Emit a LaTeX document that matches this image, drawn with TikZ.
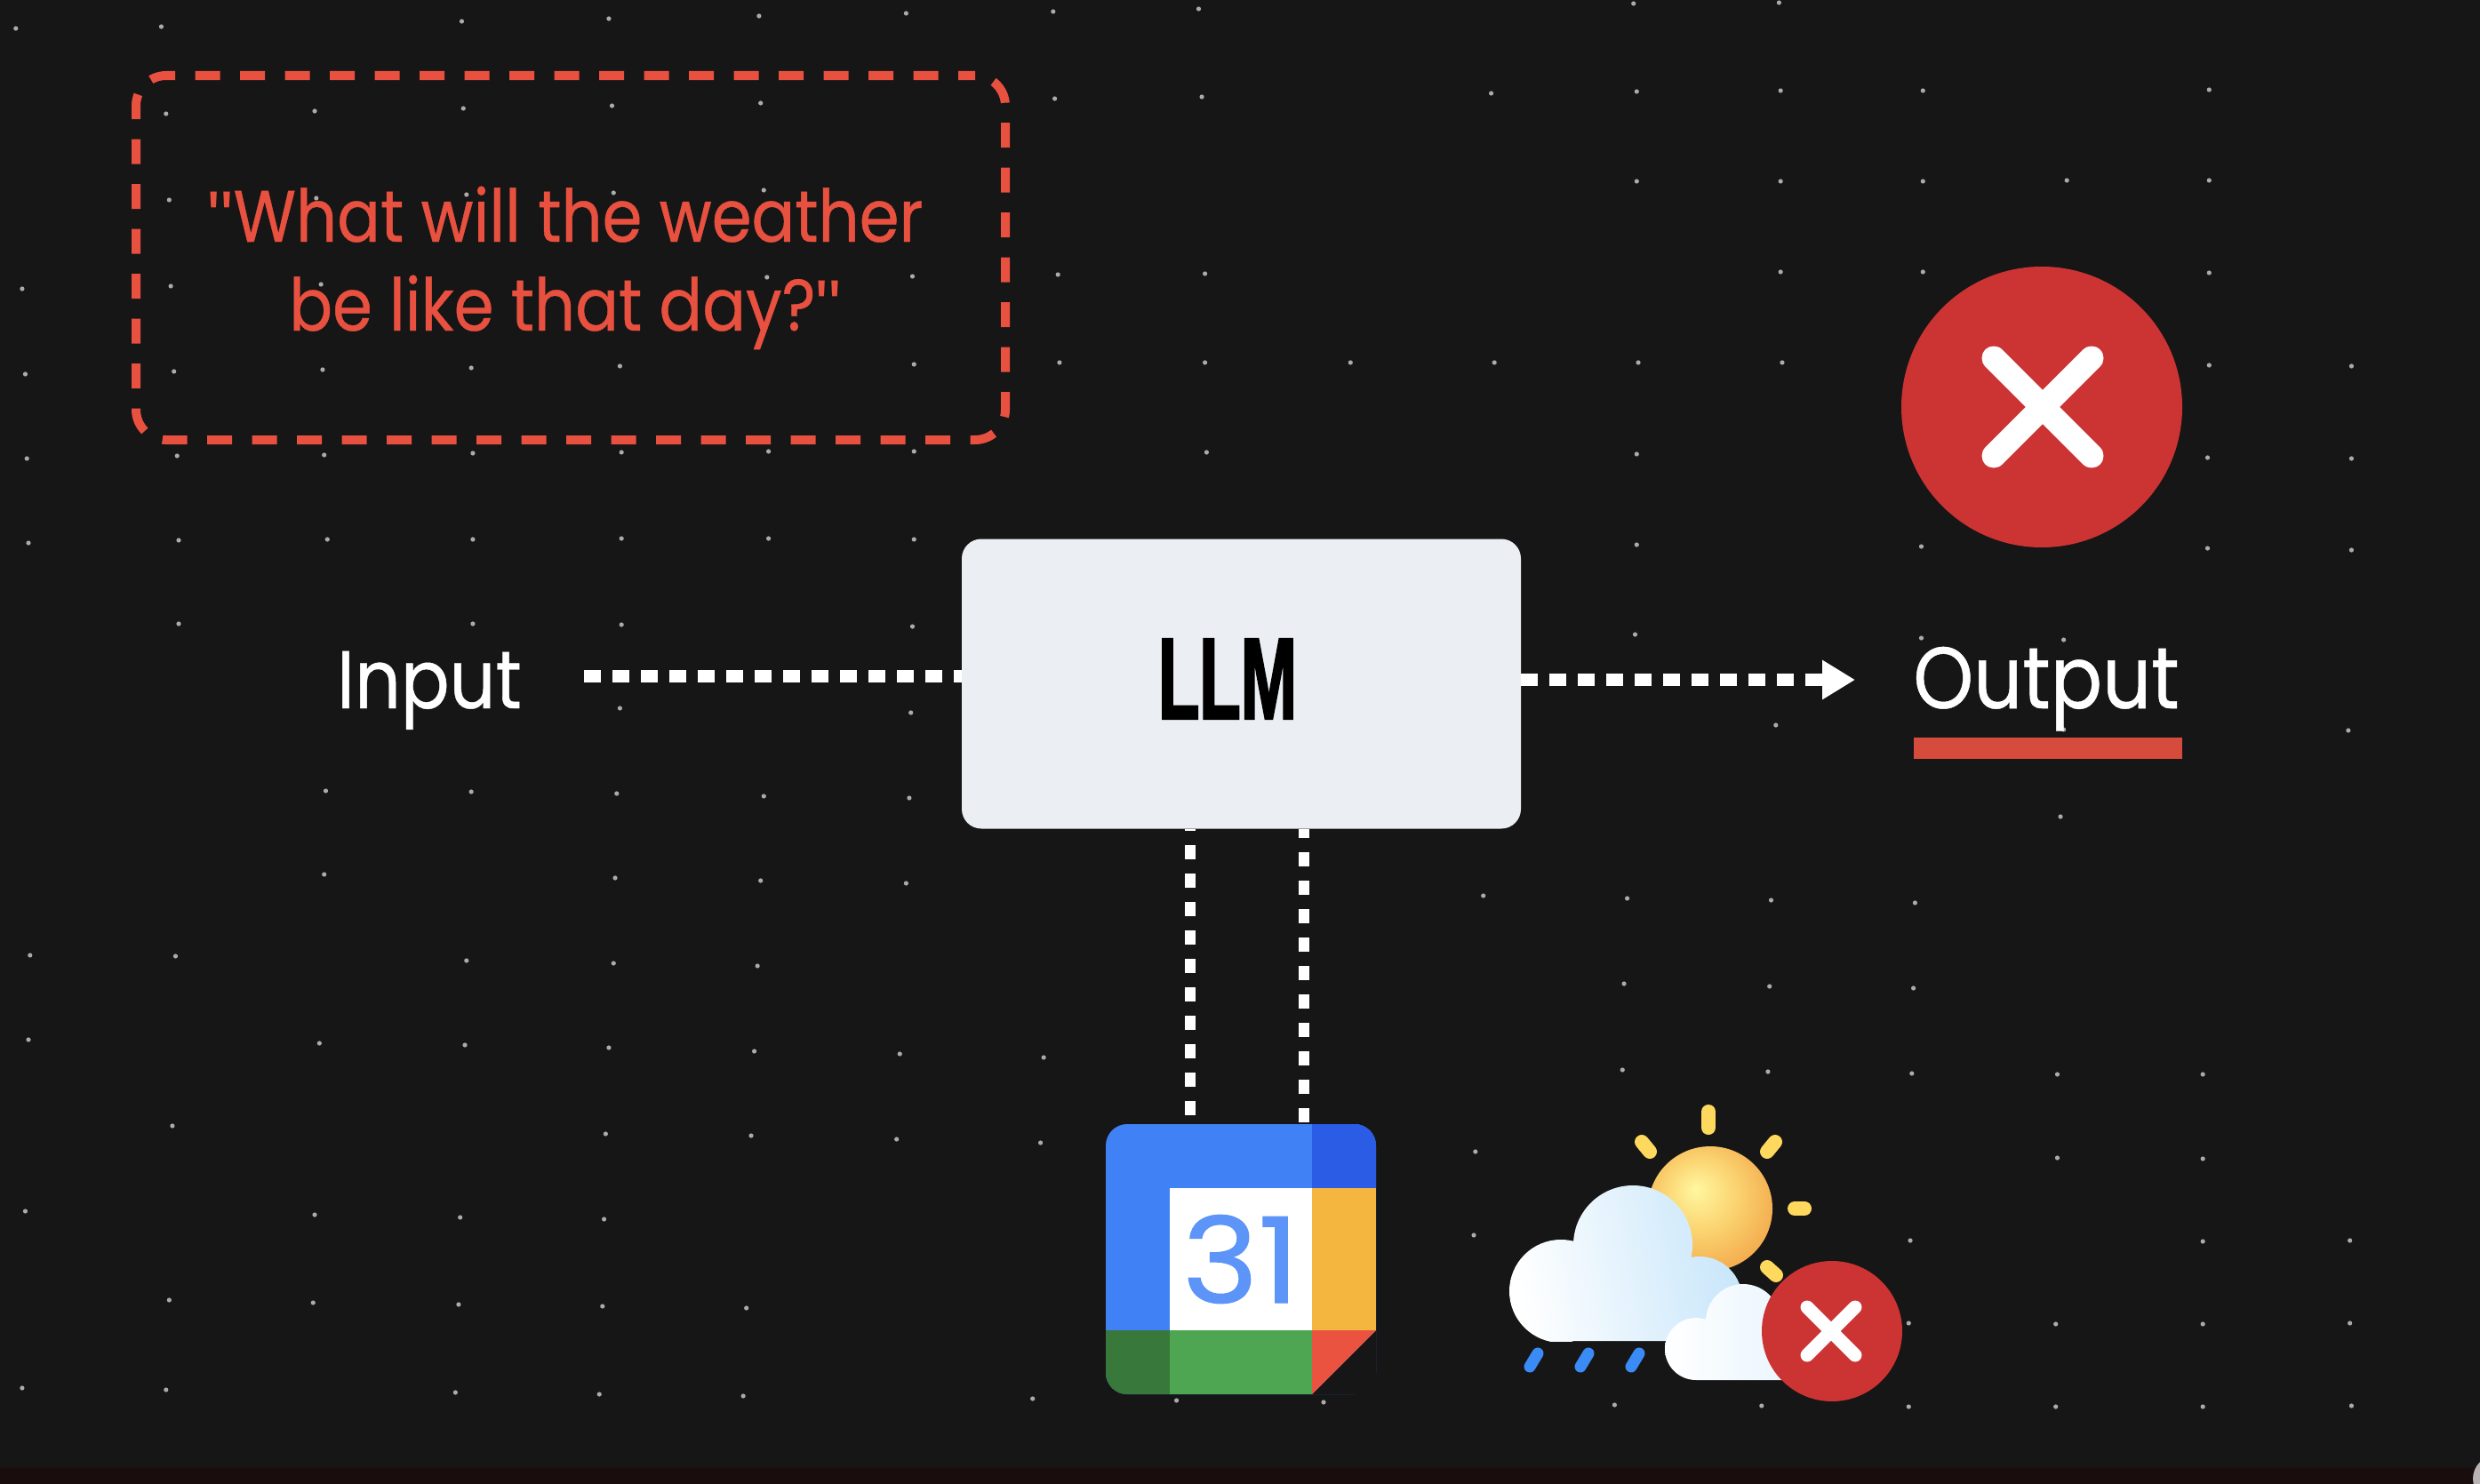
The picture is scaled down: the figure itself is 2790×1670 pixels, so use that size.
\documentclass[tikz,border=0pt]{standalone}
\usepackage{fontspec}
\usepackage{xcolor}
\usepackage{tikz}
\usetikzlibrary{arrows.meta,positioning,shadings}
\setmainfont[FakeStretch=0.88,FakeBold=0.5]{Poppins}
\newfontfamily\llmfont[FakeStretch=0.58,FakeBold=1.5]{Liberation Sans}
\newfontfamily\quotefont{Liberation Sans}
\newfontfamily\dayfont[FakeStretch=1.08,FakeBold=1.0]{Poppins}
\definecolor{bgdark}{HTML}{161616}
\definecolor{bgstrip}{HTML}{190D0D}
\definecolor{alertred}{HTML}{E8503F}
\definecolor{barred}{HTML}{D64C3C}
\definecolor{crossred}{HTML}{CC3333}
\definecolor{boxgray}{HTML}{EBEFF3}
\definecolor{calblue}{HTML}{4081F5}
\definecolor{calnavy}{HTML}{2A5CE6}
\definecolor{calyellow}{HTML}{F4B63F}
\definecolor{calgreen}{HTML}{4EA652}
\definecolor{calforest}{HTML}{38783B}
\definecolor{calred}{HTML}{EA5340}
\definecolor{rayyellow}{HTML}{FFD85E}
\definecolor{rainblue}{HTML}{3A8BF5}
\definecolor{sunlight}{HTML}{FFF7A0}
\definecolor{sunmid}{HTML}{FBD572}
\definecolor{sunedge}{HTML}{F2A548}
\definecolor{cloudblue}{HTML}{C8E6FA}
\definecolor{stargray}{HTML}{ABABAB}
\definecolor{cornergray}{HTML}{B8B4B6}
\tikzset{
    dotted link/.style={draw=white, line width=14pt, dash pattern=on 19pt off 13pt},
    dotted drop/.style={draw=white, line width=12pt, dash pattern=on 16pt off 16pt},
    caption/.style={text=white, inner sep=0pt, anchor=base},
    red cross/.style={fill=crossred, circle, inner sep=0pt},
    cross arm/.style={white, line cap=round},
    ray/.style={rayyellow, line width=16pt, line cap=round},
    drop/.style={rainblue, line width=13pt, line cap=round},
}
\pgfdeclareradialshading{sunshade}{\pgfpoint{-6bp}{8bp}}{
    color(0bp)=(sunlight); color(14bp)=(sunmid); color(32bp)=(sunedge); color(50bp)=(sunedge)}
\begin{document}
\begin{tikzpicture}[x=1pt, y=-1pt]
    \def\DX{1.779}
    \fill[bgdark] (0,0) rectangle (2790,1670);
    \useasboundingbox (0,0) rectangle (2790,1670);
    \fill[bgstrip] (0,1652) rectangle (2790,1670);
    \foreach \sx/\sy in {10/32,102/30,292/24,385/21,480/18,573/15,666/13,758/10,1033/4,1125/3,
      105/128,199/125,293/122,387/119,481/116,667/111,760/109,943/105,1035/103,1126/102,1216/102,1397/101,
      107/225,200/223,295/219,388/217,483/214,1035/204,1126/204,1216/204,1307/203,1397/203,
      14/325,108/322,203/320,485/312,577/311,669/309,762/308,1126/306,1216/306,1397/307,
      16/421,110/418,204/416,298/414,392/412,578/410,670/408,762/408,854/408,945/408,1036/408,1127/408,1397/411,1487/412,
      17/516,112/513,205/512,299/510,393/509,486/508,578/508,763/509,1035/511,1396/515,1487/516,
      18/611,113/608,207/607,299/607,393/606,486/606,578/607,1035/613,1215/615,1396/617,1487/619,
      113/702,299/702,393/703,577/705,1034/714,1215/718,1305/720,
      392/797,576/802,1123/816,1305/821,1485/822,
      206/890,298/891,390/893,483/896,575/898,1303/919,
      205/984,389/988,481/991,573/994,938/1008,1029/1011,1120/1013,1211/1016,
      19/1075,111/1076,295/1081,388/1084,479/1087,1027/1107,1119/1110,1210/1112,
      18/1170,202/1174,294/1176,385/1179,477/1183,569/1186,660/1190,1026/1204,1118/1206,1209/1208,1301/1209,1393/1209,
      109/1267,383/1276,475/1278,567/1282,658/1286,933/1296,1301/1303,1393/1304,
      16/1363,199/1367,291/1370,382/1372,932/1390,1208/1396,1393/1397,1486/1396,
      107/1463,198/1466,290/1468,381/1470,472/1472,1207/1489,1300/1490,1393/1490,1486/1489,
      14/1562,105/1564,288/1567,379/1569,470/1571,653/1574,744/1576,837/1578,1021/1581,1114/1582,1207/1583,1300/1583,1393/1583,1487/1582} {
      \fill[stargray] (\sx*\DX,\sy) circle (2.6pt);
    }
    \fill[cornergray] (2808,1664) circle (26pt);
    \node[draw=alertred, line width=10pt, rounded corners=34pt, dash pattern=on 28pt off 22.5pt, dash phase=9pt,
      minimum width=978pt, minimum height=410pt, inner sep=0pt] (question) at (642,290) {};
    \node[text=alertred, font=\fontsize{82}{100}\selectfont, align=center, inner sep=0pt, anchor=base] (questiontext) at (636,372)
      {{\quotefont\char34}What will the weather\\be like that day?{\quotefont\char34}};
    \node[fill=boxgray, rounded corners=22pt, minimum width=629pt, minimum height=326pt, inner sep=0pt] (llm) at (1396.5,769.5) {};
    \node[inner sep=0pt] (llmtext) at (1381,764) {\llmfont\bfseries\fontsize{131}{131}\selectfont LLM};
    \node[caption, font=\fontsize{92}{100}\selectfont] (input) at (483,797) {Input};
    \node[caption, font=\fontsize{98}{100}\selectfont] (output) at (2302,797) {Output};
    \node[fill=barred, minimum width=302pt, minimum height=24pt, inner sep=0pt] (underline) at (2304,842) {};
    \coordinate (inputstart) at (657,761);
    \coordinate (arrowtip) at (2087,765);
    \coordinate (leftend) at (1339,1255);
    \coordinate (rightend) at (1467,1263);
    \draw[dotted link] (inputstart) -- (llm.west |- inputstart);
    \draw[dotted link, -{Triangle[length=37pt, width=42pt]}] (llm.east |- arrowtip) -- (arrowtip);
    \draw[dotted drop] (leftend) -- (llm.south -| leftend);
    \draw[dotted drop] (rightend) -- (llm.south -| rightend);
    \node[red cross, minimum size=316pt] (bigcross) at (2297,458) {};
    \draw[cross arm, line width=27pt] (2243,403) -- (2353,513);
    \draw[cross arm, line width=27pt] (2353,403) -- (2243,513);
    \node[fill=calblue, rounded corners=24pt, minimum width=304pt, minimum height=304pt, inner sep=0pt] (calendar) at (1396,1417) {};
    \begin{scope}
      \clip[rounded corners=24pt] (1244,1265) rectangle (1548,1569);
      \fill[calnavy] (1476,1265) rectangle (1548,1337);
      \fill[calyellow] (1476,1337) rectangle (1548,1497);
      \fill[calgreen] (1316,1497) rectangle (1476,1569);
      \fill[calforest] (1244,1497) rectangle (1316,1569);
    \end{scope}
    \fill[bgdark] (1476,1569) -- (1548,1497) -- (1548,1569) -- cycle;
    \fill[calred] (1476,1497) -- (1548,1497) -- (1476,1569) -- cycle;
    \node[fill=white, minimum width=160pt, minimum height=160pt, inner sep=0pt, text=calblue!85!white,
      font=\dayfont\fontsize{134}{134}\selectfont] (calday) at (1396,1417) {31};
    \foreach \a/\b/\c/\d in {1922/1251/1922/1269, 1847/1285/1856/1296, 1997/1285/1988/1296, 2019/1360/2030/1360, 1988/1426/1998/1435} {
      \draw[ray] (\a,\b) -- (\c,\d);
    }
    \shade[shading=sunshade] (1924,1360) circle (70pt);
    \begin{scope}
      \clip (1690,1320) rectangle (2100,1509);
      \shade[left color=white, right color=cloudblue, shading angle=100]
        (1756,1453) circle (58pt) (1837,1401) circle (67pt) (1912,1462) circle (48pt)
        (1756,1440) rectangle (1912,1509);
    \end{scope}
    \foreach \n in {0,1,2} {
      \draw[drop] (1730+\n*57,1523) -- (1721+\n*57,1538);
    }
    \shade[left color=white, right color=cloudblue!40!white]
      (1908,1518) circle (35pt) (1961,1487) circle (42pt) (1908,1500) rectangle (2020,1553);
    \node[red cross, minimum size=158pt] (smallcross) at (2061,1498) {};
    \draw[cross arm, line width=15pt] (2033,1471) -- (2087,1525);
    \draw[cross arm, line width=15pt] (2087,1471) -- (2033,1525);
\end{tikzpicture}
\end{document}
